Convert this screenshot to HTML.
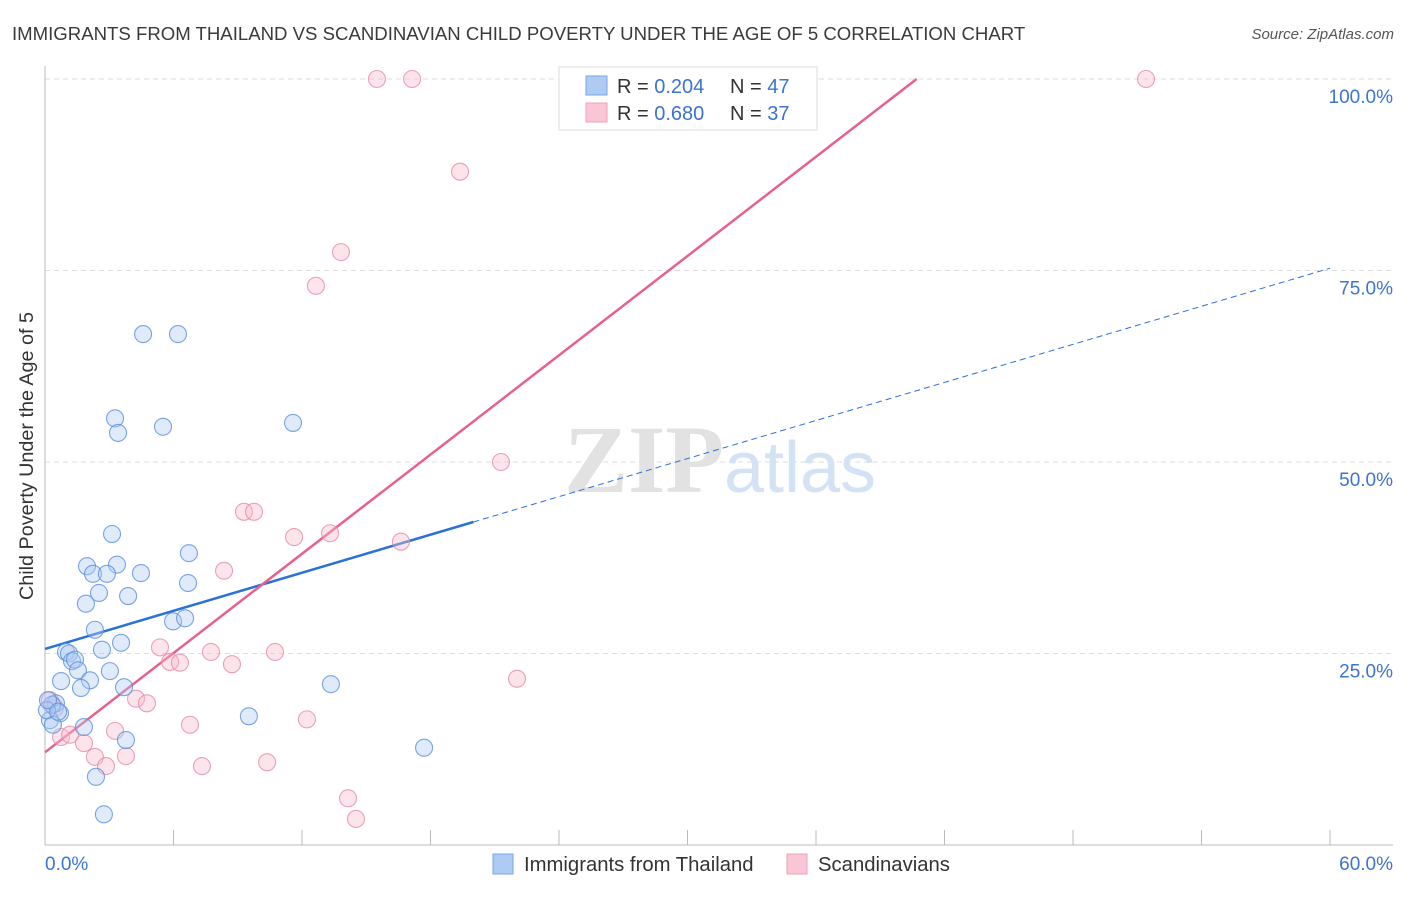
<!DOCTYPE html>
<html><head><meta charset="utf-8"><style>
body{margin:0;background:#fff;font-family:"Liberation Sans",sans-serif}
svg text{font-family:"Liberation Sans",sans-serif}
</style></head><body>
<svg id="chart" width="1406" height="892" viewBox="0 0 1406 892" xmlns="http://www.w3.org/2000/svg">
<text x="12" y="40" font-size="18.6" fill="#3a3a3a">IMMIGRANTS FROM THAILAND VS SCANDINAVIAN CHILD POVERTY UNDER THE AGE OF 5 CORRELATION CHART</text>
<text x="1394" y="39" font-size="15" fill="#555" font-style="italic" text-anchor="end">Source: ZipAtlas.com</text>
<g id="grid"></g>
<text x="720" y="492" font-size="96" text-anchor="middle"><tspan fill="#e2e2e2" font-family="Liberation Serif" font-weight="bold">ZIP</tspan><tspan fill="#d3e2f5" font-size="72">atlas</tspan></text>
<text transform="translate(33,456) rotate(-90)" font-size="19.8" fill="#333" text-anchor="middle">Child Poverty Under the Age of 5</text>
<g id="lines"></g>
<g id="points"></g>
<g>
<rect x="559" y="67" width="258" height="63" fill="#fff" stroke="#ddd"/>
<rect x="586" y="76" width="21" height="19" fill="#aecbf3" stroke="#7aa6e6"/>
<rect x="586" y="103" width="21" height="19" fill="#f9c6d5" stroke="#eea0b7"/>
<text x="617" y="93" font-size="20" fill="#333">R = <tspan fill="#3b74d1">0.204</tspan></text>
<text x="730" y="93" font-size="20" fill="#333">N = <tspan fill="#3b74d1">47</tspan></text>
<text x="617" y="120" font-size="20" fill="#333">R = <tspan fill="#3b74d1">0.680</tspan></text>
<text x="730" y="120" font-size="20" fill="#333">N = <tspan fill="#3b74d1">37</tspan></text>
</g>
<g>
<rect x="493" y="854" width="20" height="20" fill="#aecbf3" stroke="#7aa6e6"/>
<text x="524" y="871" font-size="20.3" fill="#333">Immigrants from Thailand</text>
<rect x="787" y="854" width="20" height="20" fill="#f9c6d5" stroke="#eea0b7"/>
<text x="818" y="871" font-size="20.3" fill="#333">Scandinavians</text>
</g>
<text x="45" y="870" font-size="19" fill="#3b74d1">0.0%</text>
<text x="1393" y="870" font-size="19" fill="#3b74d1" text-anchor="end">60.0%</text>
</svg>
<script>
const yTicks=[100,75,50,25];
const yTickLabels=["100.0%","75.0%","50.0%","25.0%"];
const blueX=[4.58,6.21,3.27,3.41,5.51,11.58,3.13,1.96,3.36,2.24,2.89,4.48,6.72,6.68,1.91,2.52,3.88,2.33,5.98,6.54,2.66,3.55,0.98,1.12,1.26,1.40,1.54,0.75,2.10,3.03,1.68,3.69,13.35,0.51,0.70,0.23,0.37,1.82,9.52,3.78,2.38,2.75,17.70,0.33,0.09,0.14,0.61];
const blueY=[66.7,66.7,55.7,53.8,54.6,55.1,40.6,36.4,36.6,35.4,35.4,35.5,38.1,34.2,31.5,32.9,32.5,28.1,29.2,29.6,25.5,26.4,25.2,25.0,24.0,24.2,22.8,21.4,21.5,22.7,20.5,20.6,21.0,18.5,17.2,16.3,15.7,15.4,16.8,13.7,8.9,4.0,12.7,18.3,17.6,18.9,17.4];
const pinkX=[15.50,17.14,51.41,19.38,13.82,12.65,21.29,9.29,9.76,11.63,13.31,16.62,8.36,5.37,5.84,6.30,7.75,8.73,10.74,22.04,4.25,4.76,6.77,12.23,3.27,0.75,1.17,1.82,2.33,2.85,3.78,7.33,10.37,14.15,14.52,0.23,0.47];
const pinkY=[100,100,100,87.9,77.4,73.0,50.0,43.5,43.5,40.2,40.7,39.6,35.8,25.8,23.9,23.8,25.2,23.6,25.2,21.7,19.1,18.5,15.7,16.4,14.9,14.1,14.4,13.3,11.5,10.3,11.6,10.3,10.8,6.1,3.4,18.9,17.9];
const blueTrend=[25.6,75.3];
const blueSolidEnd=20.0;
const pinkTrend=[12.1,100];
const pinkEndX=40.7;
const NS="http://www.w3.org/2000/svg";
const sx=v=>45+v/60*1285;
const sy=v=>845-v*7.66;
function mk(tag,attrs,parent){const e=document.createElementNS(NS,tag);for(const k in attrs)e.setAttribute(k,attrs[k]);parent.appendChild(e);return e;}
const grid=document.getElementById('grid');
yTicks.forEach((t,i)=>{
 const l=mk('line',{x1:45,x2:1393,y1:sy(t),y2:sy(t),stroke:'#ddd','stroke-dasharray':'5,4'},grid);
 
 
 const tx=mk('text',{x:1393,y:sy(t)+24,'font-size':19,fill:'#3b74d1','text-anchor':'end'},grid);
 tx.textContent=yTickLabels[i];
 
 
});
const ya=mk('line',{x1:45,x2:45,y1:66,y2:845,stroke:'#bbb'},grid);


const xa=mk('line',{x1:45,x2:1393,y1:845,y2:845,stroke:'#bbb'},grid);


for(let i=0;i<=10;i++){const t=mk('line',{x1:sx(i*6),x2:sx(i*6),y1:830,y2:845,stroke:'#bbb'},grid);
 
 }
function drawPts(X,Y,fill,stroke,name){const g=document.getElementById('points');
 X.forEach((x,i)=>{const c=mk('circle',{cx:sx(x),cy:sy(Y[i]),r:8.5,fill:fill,'fill-opacity':0.4,stroke:stroke,'stroke-opacity':0.8,'stroke-width':1.1},g);
 
 });}
drawPts(pinkX,pinkY,'#f7bccd','#e98aa7','scandinavians-point');
drawPts(blueX,blueY,'#aecbf3','#5a8fdc','thailand-point');
const L=document.getElementById('lines');
const by=x=>blueTrend[0]+(blueTrend[1]-blueTrend[0])*x/60;
const b1=mk('line',{x1:sx(0),y1:sy(by(0)),x2:sx(blueSolidEnd),y2:sy(by(blueSolidEnd)),stroke:'#2a72d6','stroke-width':2.5},L);


const b2=mk('line',{x1:sx(blueSolidEnd),y1:sy(by(blueSolidEnd)),x2:sx(60),y2:sy(by(60)),stroke:'#2a72d6','stroke-width':1,'stroke-dasharray':'6,4'},L);


const p1=mk('line',{x1:sx(0),y1:sy(pinkTrend[0]),x2:sx(pinkEndX),y2:sy(pinkTrend[1]),stroke:'#e8608d','stroke-width':2.5},L);


</script>
</body></html>
